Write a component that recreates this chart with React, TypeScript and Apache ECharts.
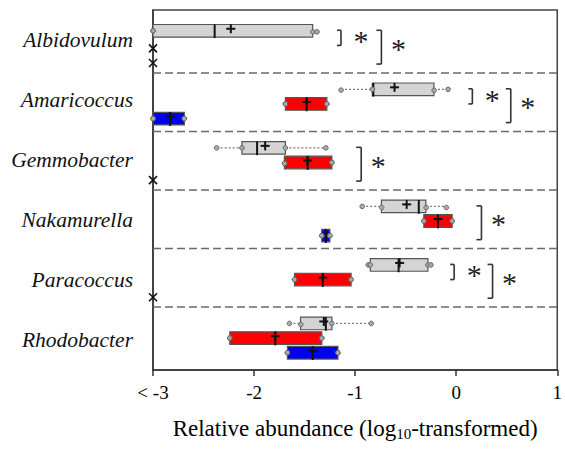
import React, { useEffect, useRef } from "react";
import * as echarts from "echarts";

const categories = ["Albidovulum", "Amaricoccus", "Gemmobacter", "Nakamurella", "Paracoccus", "Rhodobacter"];
const xTicks = [-3, -2, -1, 0, 1];

// [min, q1, median, q3, max, mean]; null = below detection (< -3)
const grayStats: (number[] | null)[] = [
  [-3, -3, -2.39, -1.42, -1.38, -2.23],
  [-1.14, -0.83, -0.82, -0.22, -0.08, -0.61],
  [-2.37, -2.12, -1.97, -1.69, -1.29, -1.89],
  [-0.93, -0.74, -0.37, -0.3, -0.1, -0.49],
  [-0.87, -0.85, -0.57, -0.28, -0.25, -0.56],
  [-1.65, -1.54, -1.29, -1.23, -0.84, -1.31],
];
const redStats: (number[] | null)[] = [
  null,
  [-1.69, -1.69, -1.48, -1.28, -1.28, -1.48],
  [-1.7, -1.7, -1.47, -1.23, -1.23, -1.47],
  [-0.32, -0.32, -0.18, -0.04, -0.04, -0.18],
  [-1.6, -1.6, -1.32, -1.04, -1.04, -1.32],
  [-2.24, -2.24, -1.79, -1.33, -1.33, -1.79],
];
const blueStats: (number[] | null)[] = [
  null,
  [-3, -3, -2.83, -2.69, -2.69, -2.83],
  null,
  [-1.33, -1.33, -1.29, -1.25, -1.25, -1.29],
  null,
  [-1.67, -1.67, -1.42, -1.17, -1.17, -1.42],
];

// significance brackets: [group, fromRow, toRow, x]
const brackets: number[][] = [
  [0, 0, 1, -1.14],
  [0, 0, 2, -0.74],
  [1, 0, 1, 0.16],
  [1, 0, 2, 0.54],
  [2, 0, 2, -0.94],
  [3, 0, 2, 0.25],
  [4, 0, 1, -0.02],
  [4, 0, 2, 0.36],
];

const FILLS = ["#d4d4d4", "#ff0000", "#0000f0"];
const SERIF = "Liberation Serif";
const rowPos = (g: number, r: number) => 4 * g + 1.12 + r;

function boxData(stats: (number[] | null)[], row: number) {
  const out: number[][] = [];
  stats.forEach((s, g) => {
    if (s) out.push([rowPos(g, row), ...s]);
  });
  return out;
}
function missingData() {
  const out: number[][] = [];
  [grayStats, redStats, blueStats].forEach((st, r) =>
    st.forEach((s, g) => {
      if (!s) out.push([-3, rowPos(g, r)]);
    })
  );
  return out;
}

function boxRender(fill: string) {
  return (params: any, api: any) => {
    const y = api.value(0);
    const [min, q1, med, q3, max, mean] = [1, 2, 3, 4, 5, 6].map((i) => api.value(i));
    const c = (v: number) => api.coord([v, y]);
    const pMin = c(min), pQ1 = c(q1), pMed = c(med), pQ3 = c(q3), pMax = c(max), pMean = c(mean);
    const cy = pQ1[1];
    const h = 6.3;
    const children: any[] = [];
    const whisk = { stroke: "#777", lineWidth: 1.3, lineDash: [2, 2] };
    if (pQ1[0] - pMin[0] > 1)
      children.push({ type: "line", shape: { x1: pMin[0], y1: cy, x2: pQ1[0], y2: cy }, style: whisk });
    if (pMax[0] - pQ3[0] > 1)
      children.push({ type: "line", shape: { x1: pQ3[0], y1: cy, x2: pMax[0], y2: cy }, style: whisk });
    children.push({
      type: "rect",
      shape: { x: pQ1[0], y: cy - h, width: pQ3[0] - pQ1[0], height: 2 * h },
      style: { fill, stroke: "#555", lineWidth: 1.2 },
    });
    children.push({
      type: "line",
      shape: { x1: pMed[0], y1: cy - h, x2: pMed[0], y2: cy + h + 1 },
      style: { stroke: "#111", lineWidth: 2 },
    });
    const mx = pMean[0], my = cy - 2;
    children.push({ type: "line", shape: { x1: mx, y1: my - 4.5, x2: mx, y2: my + 4.5 }, style: { stroke: "#111", lineWidth: 2 } });
    children.push({ type: "line", shape: { x1: mx - 4.5, y1: my, x2: mx + 4.5, y2: my }, style: { stroke: "#111", lineWidth: 2 } });
    [pMin, pQ1, pQ3, pMax].forEach((p) =>
      children.push({ type: "circle", shape: { cx: p[0], cy, r: 2.3 }, style: { fill: "#aaa", stroke: "#666", lineWidth: 1 } })
    );
    return { type: "group", children };
  };
}

const sepData = categories.slice(1).map((_, i) => [4 * (i + 1)]);

export default function App() {
  const ref = useRef<HTMLDivElement>(null);
  useEffect(() => {
    const chart = echarts.init(ref.current!, null, { renderer: "svg" });
    const option: any = {
      animation: false,
      grid: { left: 153, top: 10, right: 1, bottom: 79, show: true, borderColor: "#444", borderWidth: 1.5 },
      xAxis: {
        type: "value",
        min: -3,
        max: 1,
        interval: 1,
        axisLine: { show: true, onZero: false, lineStyle: { color: "#333", width: 1.5 } },
        axisTick: { show: true, length: 6, lineStyle: { color: "#333", width: 1.5 } },
        splitLine: { show: false },
        axisLabel: {
          fontFamily: SERIF,
          fontSize: 19,
          color: "#000",
          margin: 13,
          formatter: (v: number) => (v === xTicks[0] ? "< " + v : String(v)),
        },
        name: "{a|Relative abundance (log}{s|10}{a|-transformed)}",
        nameLocation: "middle",
        nameGap: 46,
        nameTextStyle: {
          rich: {
            a: { fontFamily: SERIF, fontSize: 23, color: "#000" },
            s: { fontFamily: SERIF, fontSize: 15, color: "#000", padding: [10, 0, 0, 0] },
          },
        },
      },
      yAxis: [
        { type: "value", min: -0.3, max: 24.3, inverse: true, show: false },
        {
          type: "category",
          data: categories,
          inverse: true,
          position: "left",
          axisLine: { show: true, lineStyle: { color: "#333", width: 1.5 } },
          axisTick: { show: false },
          axisLabel: { fontFamily: SERIF, fontStyle: "italic", fontSize: 21.5, color: "#111", margin: 20 },
        },
      ],
      series: [
        {
          type: "custom",
          yAxisIndex: 0,
          data: sepData,
          renderItem: (params: any, api: any) => {
            const y = api.value(0);
            const a = api.coord([-3, y]);
            const b = api.coord([1, y]);
            return {
              type: "line",
              shape: { x1: a[0], y1: a[1], x2: b[0] + 2, y2: b[1] },
              style: { stroke: "#6a6a6a", lineWidth: 1.6, lineDash: [8, 4] },
            };
          },
        },
        ...[grayStats, redStats, blueStats].map((st, r) => ({
          type: "custom",
          yAxisIndex: 0,
          data: boxData(st, r),
          renderItem: boxRender(FILLS[r]),
        })),
        {
          type: "custom",
          yAxisIndex: 0,
          data: missingData(),
          clip: false,
          renderItem: (params: any, api: any) => {
            const p = api.coord([api.value(0), api.value(1)]);
            const cx = p[0], cy = p[1] + 3, s = 4;
            return {
              type: "group",
              children: [
                { type: "line", shape: { x1: cx - s, y1: cy - s, x2: cx + s, y2: cy + s }, style: { stroke: "#111", lineWidth: 1.6 } },
                { type: "line", shape: { x1: cx - s, y1: cy + s, x2: cx + s, y2: cy - s }, style: { stroke: "#111", lineWidth: 1.6 } },
              ],
            };
          },
        },
        {
          type: "custom",
          yAxisIndex: 0,
          data: brackets.map((b) => [b[3], rowPos(b[0], b[1]), rowPos(b[0], b[2])]),
          renderItem: (params: any, api: any) => {
            const x = api.value(0);
            const top = api.coord([x, api.value(1)]);
            const bot = api.coord([x, api.value(2)]);
            const large = api.value(2) - api.value(1) > 1.5;
            const y1 = top[1] - 0.5;
            const y2 = bot[1] + (large ? 4 : 0);
            const tick = large ? 5 : 4;
            const st = { stroke: "#333", lineWidth: 1.6 };
            return {
              type: "group",
              children: [
                { type: "line", shape: { x1: top[0], y1, x2: top[0], y2 }, style: st },
                { type: "line", shape: { x1: top[0] - tick, y1, x2: top[0], y2: y1 }, style: st },
                { type: "line", shape: { x1: top[0] - tick, y1: y2, x2: top[0], y2 }, style: st },
                {
                  type: "text",
                  x: top[0] + (large ? 17 : 20),
                  y: (y1 + y2) / 2 + (large ? 1 : 3),
                  style: {
                    text: "*",
                    fontFamily: SERIF,
                    fontSize: 30,
                    fill: "#222",
                    align: "center",
                    verticalAlign: "middle",
                  },
                },
              ],
            };
          },
        },
      ],
    };
    chart.setOption(option);
    return () => chart.dispose();
  }, []);
  return <div ref={ref} style={{ position: "absolute", left: 0, top: 0, width: 565, height: 449 }} />;
}
